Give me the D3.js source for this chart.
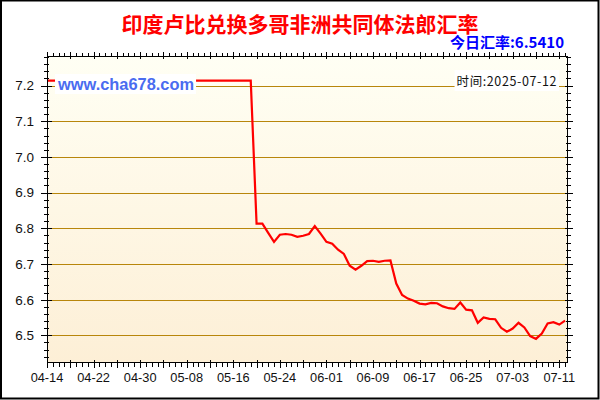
<!DOCTYPE html>
<html>
<head>
<meta charset="utf-8">
<script src="https://cdn.jsdelivr.net/npm/d3@7"></script>
<style>
  html, body { margin: 0; padding: 0; background: #fff; }
  svg { display: block; }
</style>
</head>
<body>
<div id="chart"></div>
<script>
// Données -----------------
const titre = "印度卢比兑换多哥非洲共同体法郎汇率";
const tauxDuJour = "今日汇率:6.5410";
const siteLabel = "www.cha678.com";
const dateLabel = "时间:2025-07-12";

const startDate = "2025-04-14";
const endDate = "2025-07-12";

// une valeur par jour, du 04-14 au 07-12
const valeurs = [
  7.214, 7.214, 7.214, 7.214, 7.214, 7.214, 7.214, 7.214, 7.214, 7.214,
  7.214, 7.214, 7.214, 7.214, 7.214, 7.214, 7.214, 7.214, 7.214, 7.214,
  7.214, 7.214, 7.214, 7.214, 7.214, 7.214, 7.214, 7.214, 7.214, 7.214,
  7.214, 7.214, 7.214, 7.214, 7.214, 7.214,
  6.813, 6.813, 6.787, 6.762, 6.782, 6.784, 6.782, 6.776, 6.779, 6.784,
  6.806, 6.785, 6.762, 6.757, 6.740, 6.728, 6.695, 6.684, 6.695, 6.708,
  6.709, 6.706, 6.709, 6.710, 6.645, 6.613, 6.603, 6.597, 6.589, 6.587,
  6.591, 6.590, 6.581, 6.576, 6.574, 6.592, 6.572, 6.570, 6.535, 6.550,
  6.546, 6.545, 6.521, 6.510, 6.519, 6.535, 6.522, 6.498, 6.490, 6.505,
  6.533, 6.537, 6.530, 6.541
];

const yTicks = [6.5, 6.6, 6.7, 6.8, 6.9, 7.0, 7.1, 7.2];
const xTickLabels = ["04-14", "04-22", "04-30", "05-08", "05-16", "05-24",
  "06-01", "06-09", "06-17", "06-25", "07-03", "07-11"];

// Mise en page -----------------
const W = 600, H = 400;
const plot = { left: 47, right: 568, top: 56, bottom: 363 };

const parse = d3.timeParse("%Y-%m-%d");
const t0 = parse(startDate);
const dates = valeurs.map((v, i) => d3.timeDay.offset(t0, i));
const data = valeurs.map((v, i) => ({ date: dates[i], value: v }));

const x = d3.scaleTime()
  .domain([t0, d3.timeHour.offset(parse(endDate), 12)])
  .range([plot.left, plot.right]);

const y = d3.scaleLinear()
  .domain([6.4224, 7.283])
  .range([plot.bottom, plot.top]);

const svg = d3.select("#chart").append("svg")
  .attr("width", W)
  .attr("height", H);

// fond dégradé
const defs = svg.append("defs");
const grad = defs.append("linearGradient")
  .attr("id", "fond")
  .attr("x1", 0).attr("y1", 0).attr("x2", 0).attr("y2", 1);
grad.append("stop").attr("offset", "0%").attr("stop-color", "#fffff4");
grad.append("stop").attr("offset", "100%").attr("stop-color", "#fdefd6");

defs.append("clipPath").attr("id", "clip")
  .append("rect")
  .attr("x", plot.left).attr("y", plot.top)
  .attr("width", plot.right - plot.left)
  .attr("height", plot.bottom - plot.top);

svg.append("rect")
  .attr("x", 1).attr("y", 0.5)
  .attr("width", W - 2.5).attr("height", H - 2)
  .attr("fill", "#fff")
  .attr("stroke", "#000")
  .attr("stroke-width", 2);

svg.append("rect")
  .attr("x", plot.left).attr("y", plot.top)
  .attr("width", plot.right - plot.left)
  .attr("height", plot.bottom - plot.top)
  .attr("fill", "url(#fond)");

// titres
svg.append("text")
  .attr("x", 300).attr("y", 32)
  .attr("text-anchor", "middle")
  .attr("font-family", "'Noto Sans CJK SC', sans-serif")
  .attr("font-weight", "bold")
  .attr("font-size", 21)
  .attr("fill", "#ff0000")
  .text(titre);

svg.append("text")
  .attr("x", 564).attr("y", 48)
  .attr("text-anchor", "end")
  .attr("font-family", "'Noto Sans CJK SC', sans-serif")
  .attr("font-weight", "bold")
  .attr("font-size", 15)
  .attr("fill", "#0000ff")
  .text(tauxDuJour);

// grille horizontale
svg.append("g")
  .selectAll("line")
  .data(yTicks)
  .enter()
  .append("line")
  .attr("x1", plot.left).attr("x2", plot.right)
  .attr("y1", (d) => Math.round(y(d)) + 0.5)
  .attr("y2", (d) => Math.round(y(d)) + 0.5)
  .attr("stroke", "#b8860b")
  .attr("stroke-width", 1);

// courbe
const line = d3.line()
  .x((d) => x(d.date))
  .y((d) => y(d.value));

svg.append("path")
  .datum(data)
  .attr("clip-path", "url(#clip)")
  .attr("fill", "none")
  .attr("stroke", "#ff0000")
  .attr("stroke-width", 2.2)
  .attr("stroke-linejoin", "miter")
  .attr("d", line);

// étiquettes avec fond blanc
const labelBox = (txt) => {
  const b = txt.node().getBBox();
  svg.insert("rect", () => txt.node())
    .attr("x", b.x - 2).attr("y", b.y - 1)
    .attr("width", b.width + 4).attr("height", b.height + 2)
    .attr("fill", "#fff");
};

const site = svg.append("text")
  .attr("x", 58).attr("y", 90)
  .attr("font-family", "'Liberation Sans', Arial, sans-serif")
  .attr("font-weight", "bold")
  .attr("font-size", 16.4)
  .attr("fill", "#4a6cf0")
  .text(siteLabel);
labelBox(site);

const temps = svg.append("text")
  .attr("x", 557).attr("y", 86)
  .attr("text-anchor", "end")
  .attr("font-family", "'Noto Sans CJK SC', sans-serif")
  .attr("font-size", 12.5)
  .attr("letter-spacing", 0.6)
  .attr("fill", "#111")
  .text(dateLabel);
labelBox(temps);

// axes -----------------
const axes = svg.append("g").attr("stroke", "#000").attr("stroke-width", 1);

axes.append("rect")
  .attr("x", plot.left + 0.5).attr("y", plot.top + 0.5)
  .attr("width", plot.right - plot.left - 1)
  .attr("height", plot.bottom - plot.top - 1)
  .attr("fill", "none");

const yMinor = d3.range(6.44, 7.281, 0.02).map((d) => +d.toFixed(2));
const isMajorY = (d) => Math.abs(d * 10 - Math.round(d * 10)) < 1e-6;

const days = d3.timeDay.range(t0, x.domain()[1]);
const isMajorX = (d) => d3.timeDay.count(t0, d) % 4 === 0;

const ticks = (sel, data, pos, major, a1, a2, b1, b2, vertical) => {
  sel.selectAll(null)
    .data(data)
    .enter()
    .append("line")
    .each(function (d) {
      const p = Math.round(pos(d)) + 0.5;
      const m = major(d);
      const e = d3.select(this);
      if (vertical) {
        e.attr("x1", p).attr("x2", p)
          .attr("y1", m ? a1 : b1).attr("y2", m ? a2 : b2);
      } else {
        e.attr("y1", p).attr("y2", p)
          .attr("x1", m ? a1 : b1).attr("x2", m ? a2 : b2);
      }
    });
};

// gauche / droite
ticks(axes.append("g"), yMinor, y, isMajorY,
  plot.left - 6, plot.left + 5, plot.left - 3, plot.left + 2, false);
ticks(axes.append("g"), yMinor, y, isMajorY,
  plot.right - 3, plot.right + 5, plot.right - 2, plot.right + 3, false);
// haut / bas
ticks(axes.append("g"), days, x, isMajorX,
  plot.top - 4, plot.top + 3, plot.top - 3, plot.top + 1, true);
ticks(axes.append("g"), days, x, isMajorX,
  plot.bottom - 3, plot.bottom + 5, plot.bottom - 1, plot.bottom + 4, true);

// libellés des axes
svg.append("g")
  .selectAll("text")
  .data(yTicks)
  .enter()
  .append("text")
  .attr("x", 34)
  .attr("y", (d) => y(d))
  .attr("dy", "0.36em")
  .attr("text-anchor", "end")
  .attr("font-family", "'Liberation Sans', Arial, sans-serif")
  .attr("font-size", 13.5)
  .attr("fill", "#111")
  .text((d) => d.toFixed(1));

const fmt = d3.timeFormat("%m-%d");
const labelDates = days.filter((d) => xTickLabels.includes(fmt(d)));

svg.append("g")
  .selectAll("text")
  .data(labelDates)
  .enter()
  .append("text")
  .attr("x", (d) => x(d))
  .attr("y", 382)
  .attr("text-anchor", "middle")
  .attr("font-family", "'Liberation Sans', Arial, sans-serif")
  .attr("font-size", 12.8)
  .attr("fill", "#111")
  .text((d) => fmt(d));
</script>
</body>
</html>
